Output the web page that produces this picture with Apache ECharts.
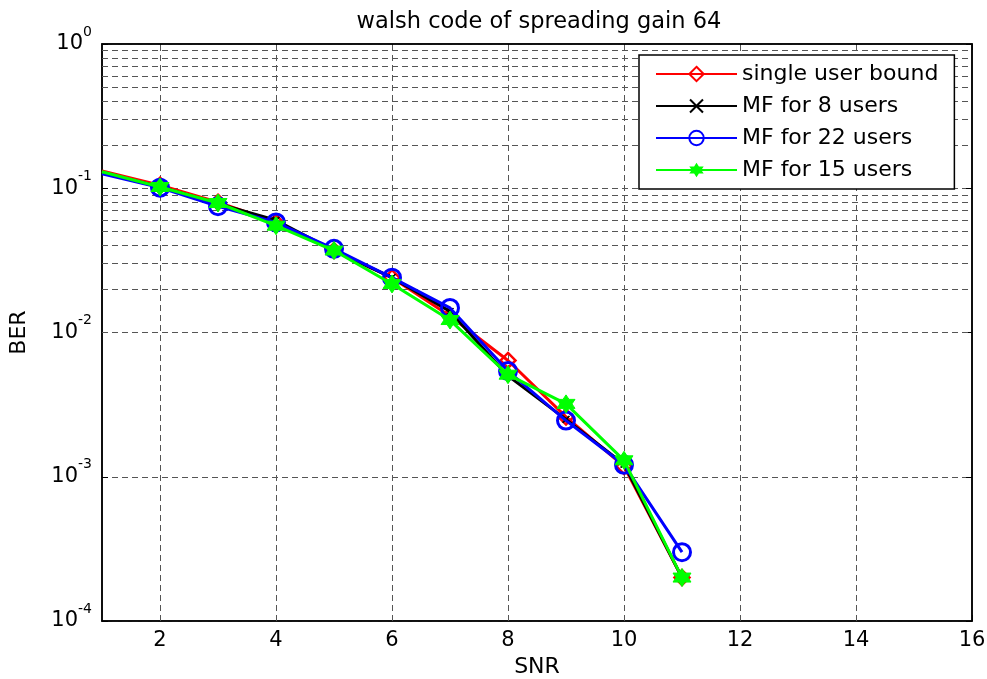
<!DOCTYPE html>
<html><head><meta charset="utf-8">
<script src="https://cdn.jsdelivr.net/npm/echarts@6/dist/echarts.min.js"></script>
<style>html,body{margin:0;padding:0;background:#fff}#c{width:987px;height:679px}</style>
</head><body><div id="c"></div>
<script>
var snr = [1, 2, 3, 4, 5, 6, 7, 8, 9, 10, 11];
var singleUser = [0.132, 0.105, 0.080, 0.058, 0.037, 0.024, 0.013, 0.0064, 0.0026, 0.00118, 0.0002];
var mf8 = [0.128, 0.102, 0.078, 0.060, 0.037, 0.024, 0.014, 0.0050, 0.0025, 0.00122, 0.0002];
var mf22 = [0.126, 0.101, 0.075, 0.058, 0.038, 0.024, 0.0148, 0.0054, 0.00245, 0.00121, 0.0003];
var mf15 = [0.130, 0.102, 0.079, 0.055, 0.037, 0.0217, 0.0122, 0.0051, 0.0032, 0.0013, 0.0002];
var seriesNames = ['single user bound', 'MF for 8 users', 'MF for 22 users', 'MF for 15 users'];
var xTicks = [2, 4, 6, 8, 10, 12, 14, 16];
var yDecades = [1e-4, 1e-3, 1e-2, 1e-1, 1];

var gridLines = [];
for (var d = 0; d < yDecades.length - 1; d++) {
  for (var k = 2; k <= 9; k++) gridLines.push({ yAxis: +(k * yDecades[d]).toPrecision(3) });
}
xTicks.forEach(function (t) { if (t < 16) gridLines.push({ xAxis: t }); });

function pts(arr) {
  return snr.map(function (x, i) {
    var p = { value: [x, arr[i]] };
    if (x === 1) p.symbol = 'none';
    return p;
  });
}
var hexagram = 'path://M0,-10 L2.89,-5 L8.66,-5 L5.77,0 L8.66,5 L2.89,5 L0,10 L-2.89,5 L-8.66,5 L-5.77,0 L-8.66,-5 L-2.89,-5 Z';
var xMark = 'path://M-5,-4 L-4,-5 L0,-1 L4,-5 L5,-4 L1,0 L5,4 L4,5 L0,1 L-4,5 L-5,4 L-1,0 Z';
var font = 'DejaVu Sans, Verdana, sans-serif';
var dash = { type: [6, 4], color: '#555555', width: 1 };
var tickStyle = { inside: true, length: 6, lineStyle: { color: '#000' } };

var chart = echarts.init(document.getElementById('c'));
chart.setOption({
  animation: false,
  backgroundColor: '#fff',
  title: {
    text: 'walsh code of spreading gain 64', left: 534, top: 6, textAlign: 'center',
    textStyle: { fontFamily: font, fontSize: 22.5, fontWeight: 'normal', color: '#000' }
  },
  grid: { left: 102, right: 15, top: 44, bottom: 58, show: true, borderColor: '#000', borderWidth: 1.5, containLabel: false, outerBoundsMode: 'none' },
  legend: {
    data: seriesNames, orient: 'vertical', left: 639, top: 55, z: 10,
    backgroundColor: '#fff', borderColor: '#000', borderWidth: 1.5,
    padding: [7, 16, 7, 16], itemGap: 8, itemWidth: 81, itemHeight: 18,
    textStyle: { fontFamily: font, fontSize: 22, color: '#000', lineHeight: 24 }
  },
  xAxis: [{
    type: 'value', min: 1, max: 16,
    name: 'SNR', nameLocation: 'middle', nameGap: 35,
    nameTextStyle: { fontFamily: font, fontSize: 22, color: '#000' },
    axisLine: { lineStyle: { color: '#000', width: 1.5 } },
    axisTick: Object.assign({ customValues: xTicks }, tickStyle),
    axisLabel: { customValues: xTicks, fontFamily: font, fontSize: 21, color: '#000', margin: 9 },
    splitLine: { show: false }
  }, {
    type: 'value', min: 1, max: 16, position: 'top',
    axisLine: { lineStyle: { color: '#000', width: 1.5 } },
    axisTick: Object.assign({ customValues: xTicks }, tickStyle),
    axisLabel: { show: false }, splitLine: { show: false }
  }],
  yAxis: [{
    type: 'log', logBase: 10, min: 1e-4, max: 1,
    name: 'BER', nameLocation: 'middle', nameGap: 72, nameRotate: 90,
    nameTextStyle: { fontFamily: font, fontSize: 22, color: '#000' },
    axisLine: { lineStyle: { color: '#000', width: 1.5 } },
    axisTick: tickStyle,
    axisLabel: {
      margin: 10,
      formatter: function (v) {
        var e = Math.round(Math.log10(v));
        return '{b|10}{s|' + e + '}';
      },
      rich: {
        b: { fontFamily: font, fontSize: 21, color: '#000', padding: [12, 0, 12, 0] },
        s: { fontFamily: font, fontSize: 14, color: '#000', padding: [0, 0, 24, 0] }
      }
    },
    splitLine: { show: true, lineStyle: dash }
  }, {
    type: 'log', logBase: 10, min: 1e-4, max: 1, position: 'right',
    axisLine: { lineStyle: { color: '#000', width: 1.5 } },
    axisTick: tickStyle, axisLabel: { show: false }, splitLine: { show: false }
  }],
  series: [
    {
      type: 'line', name: '_grid', data: [], z: 1, silent: true,
      markLine: { z: 1, silent: true, symbol: 'none', label: { show: false }, lineStyle: dash, data: gridLines, animation: false }
    },
    {
      type: 'line', name: seriesNames[0], data: pts(singleUser), z: 3,
      symbol: 'diamond', symbolSize: 15, showAllSymbol: true,
      lineStyle: { color: '#ff0000', width: 3 },
      itemStyle: { color: 'rgba(255,255,255,0)', borderColor: '#ff0000', borderWidth: 2.5 }
    },
    {
      type: 'line', name: seriesNames[1], data: pts(mf8), z: 4,
      symbol: xMark, symbolSize: 7, showAllSymbol: true,
      lineStyle: { color: '#000000', width: 3 },
      itemStyle: { color: '#000000', borderColor: '#000000' }
    },
    {
      type: 'line', name: seriesNames[2], data: pts(mf22), z: 5,
      symbol: 'circle', symbolSize: 17, showAllSymbol: true,
      lineStyle: { color: '#0000ff', width: 3 },
      itemStyle: { color: 'rgba(255,255,255,0)', borderColor: '#0000ff', borderWidth: 3 }
    },
    {
      type: 'line', name: seriesNames[3], data: pts(mf15), z: 6,
      symbol: hexagram, symbolSize: 18, showAllSymbol: true,
      lineStyle: { color: '#00ff00', width: 3 },
      itemStyle: { color: '#00ff00', borderColor: '#00ff00' }
    }
  ]
});
</script>
</body></html>
